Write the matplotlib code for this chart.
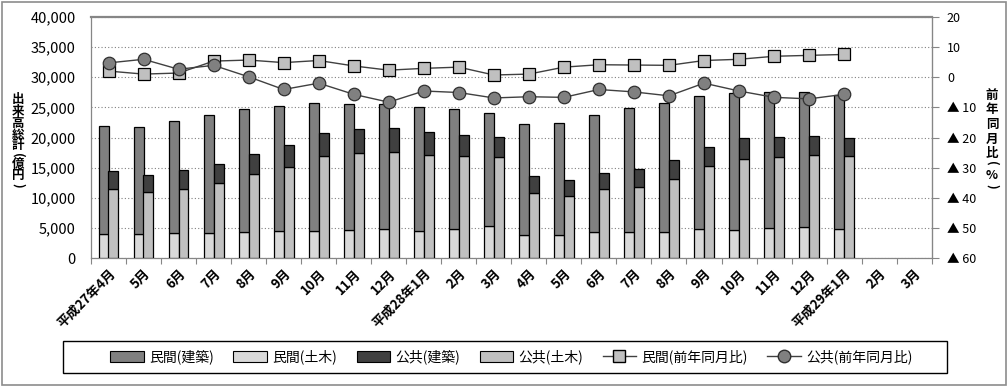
import numpy as np
import matplotlib
matplotlib.use("Agg")
import matplotlib.pyplot as plt
from matplotlib.patches import Patch, Rectangle
from matplotlib.lines import Line2D
from matplotlib.ticker import FixedLocator, FuncFormatter

plt.rcParams["font.family"] = ["Noto Sans CJK JP", "DejaVu Sans"]

# ---- data (億円, %) ----
months = ["平成27年4月", "5月", "6月", "7月", "8月", "9月", "10月", "11月", "12月",
          "平成28年1月", "2月", "3月", "4月", "5月", "6月", "7月", "8月", "9月",
          "10月", "11月", "12月", "平成29年1月", "2月", "3月"]

minkan_doboku = [3970, 3970, 4140, 4140, 4300, 4470, 4470, 4630, 4800, 4470, 4800,
                 5300, 3810, 3810, 4300, 4300, 4300, 4800, 4630, 4970, 5130, 4800]
minkan_kenchiku = [17880, 17710, 18540, 19530, 20360, 20690, 21190, 20970, 20690,
                   20520, 19860, 18700, 18370, 18530, 19370, 20530, 21360, 22010,
                   22680, 22510, 22350, 22180]
kokyo_doboku = [11420, 10920, 11530, 12410, 13900, 15060, 16880, 17490, 17660, 17160,
                16880, 16720, 10760, 10260, 11420, 11860, 13130, 15230, 16390, 16720,
                17050, 16880]
kokyo_kenchiku = [2980, 2820, 3040, 3150, 3310, 3640, 3810, 3860, 3860, 3700, 3480,
                  3310, 2810, 2650, 2650, 2870, 3090, 3140, 3470, 3310, 3140, 2980]

minkan_yoy = [2.0, 1.0, 1.35, 5.3, 5.65, 4.8, 5.5, 3.7, 2.3, 2.9, 3.3, 0.7, 1.0,
              3.3, 4.1, 4.0, 3.9, 5.5, 5.9, 6.9, 7.2, 7.5]
kokyo_yoy = [4.7, 5.9, 2.6, 3.9, 0.1, -4.1, -2.0, -5.7, -8.3, -4.6, -5.1, -6.9,
             -6.5, -6.7, -4.1, -4.9, -6.2, -2.0, -4.6, -6.7, -7.2, -5.7]

C_MK = "#808080"   # 民間(建築)
C_MD = "#d9d9d9"   # 民間(土木)
C_KK = "#404040"   # 公共(建築)
C_KD = "#c0c0c0"   # 公共(土木)
SPINE = "#868686"

fig = plt.figure(figsize=(10.08, 3.86), dpi=100)
ax = fig.add_axes([0.0903, 0.3308, 0.834, 0.6259])

n = len(minkan_doboku)
x = np.arange(n)
w = 0.285
off = 0.14

ax.bar(x - off, minkan_doboku, w, color=C_MD, edgecolor="black", lw=0.9, zorder=3)
ax.bar(x - off, minkan_kenchiku, w, bottom=minkan_doboku, color=C_MK,
       edgecolor="black", lw=0.9, zorder=3)
ax.bar(x + off, kokyo_doboku, w, color=C_KD, edgecolor="black", lw=0.9, zorder=3)
ax.bar(x + off, kokyo_kenchiku, w, bottom=kokyo_doboku, color=C_KK,
       edgecolor="black", lw=0.9, zorder=3)

ax.set_xlim(-0.5, len(months) - 0.5)
ax.set_ylim(0, 40000)
ax.set_yticks(np.arange(0, 40001, 5000))
ax.yaxis.set_major_formatter(FuncFormatter(lambda v, p: f"{int(v):,}"))
ax.tick_params(axis="y", length=0, pad=11, labelsize=10.5)
ax.grid(axis="y", color="#808080", ls=(0, (1, 2)), lw=0.8, zorder=0)

ax.set_xticks(np.arange(len(months)))
ax.set_xticklabels(months, rotation=45, ha="right", va="top",
                   rotation_mode="anchor", fontsize=9.5, fontweight="bold")
ax.tick_params(axis="x", which="major", length=0, pad=6)
ax.xaxis.set_minor_locator(FixedLocator(np.arange(-0.5, len(months), 1.0)))
ax.tick_params(axis="x", which="minor", length=4, color=SPINE, width=0.8)

for s in ax.spines.values():
    s.set_color(SPINE)
    s.set_linewidth(0.9)
ax.spines["top"].set_linewidth(1.6)

# ---- right axis: 前年同月比 ----
ax2 = ax.twinx()
ax2.plot(x[:len(minkan_yoy)], minkan_yoy, color="#404040", lw=1.0, marker="s",
         markersize=9, markerfacecolor=C_KD, markeredgecolor="black",
         markeredgewidth=0.9, zorder=5)
ax2.plot(x[:len(kokyo_yoy)], kokyo_yoy, color="#404040", lw=1.0, marker="o",
         markersize=9, markerfacecolor=C_MK, markeredgecolor="#303030",
         markeredgewidth=0.9, zorder=6)
ax2.set_ylim(-60, 20)
ax2.set_yticks(np.arange(-60, 21, 10))
ax2.yaxis.set_major_formatter(
    FuncFormatter(lambda v, p: f"▲ {int(-v)}" if v < 0 else f"{int(v)}"))
ax2.tick_params(axis="y", length=5, color=SPINE, pad=6, labelsize=9)
for s in ax2.spines.values():
    s.set_visible(False)
ax2.spines["right"].set_visible(True)
ax2.spines["right"].set_color(SPINE)

# ---- vertical axis titles (one upright character per line) ----
def vtext(xpx, ys, chars):
    for c, yy in zip(chars, ys):
        rot = -90 if c in "()" else 0
        fig.text(xpx / 1008, 1 - yy / 386, c, ha="center", va="center",
                 rotation=rot, fontsize=9, fontweight="bold")

vtext(18, [100, 112, 123, 135, 146, 155, 164, 175, 185], "出来高総計(億円)")
vtext(992, [95, 109, 124, 139, 153, 163, 175, 186], "前年同月比(%)")

# ---- legend ----
handles = [
    Patch(facecolor=C_MK, edgecolor="black", lw=0.8, label="民間(建築)"),
    Patch(facecolor=C_MD, edgecolor="black", lw=0.8, label="民間(土木)"),
    Patch(facecolor=C_KK, edgecolor="black", lw=0.8, label="公共(建築)"),
    Patch(facecolor=C_KD, edgecolor="black", lw=0.8, label="公共(土木)"),
    Line2D([0], [0], color="#404040", lw=1, marker="s", markersize=9,
           markerfacecolor=C_KD, markeredgecolor="black", label="民間(前年同月比)"),
    Line2D([0], [0], color="#404040", lw=1, marker="o", markersize=9,
           markerfacecolor=C_MK, markeredgecolor="#303030", label="公共(前年同月比)"),
]
fig.legend(handles=handles, loc="center", bbox_to_anchor=(0.5075, 0.0751),
           ncol=6, frameon=False, fontsize=10, handlelength=2.4,
           handleheight=0.8, handletextpad=0.4, columnspacing=1.4)
fig.add_artist(Rectangle((63 / 1008, 13 / 386), 884 / 1008, 32 / 386,
                         transform=fig.transFigure, fill=False,
                         edgecolor="black", lw=1.0))
fig.add_artist(Rectangle((1.5 / 1008, 1.5 / 386), 1004 / 1008, 383 / 386,
                         transform=fig.transFigure, fill=False,
                         edgecolor="#8c8c8c", lw=1.2))

fig.savefig("out.png", dpi=100)
